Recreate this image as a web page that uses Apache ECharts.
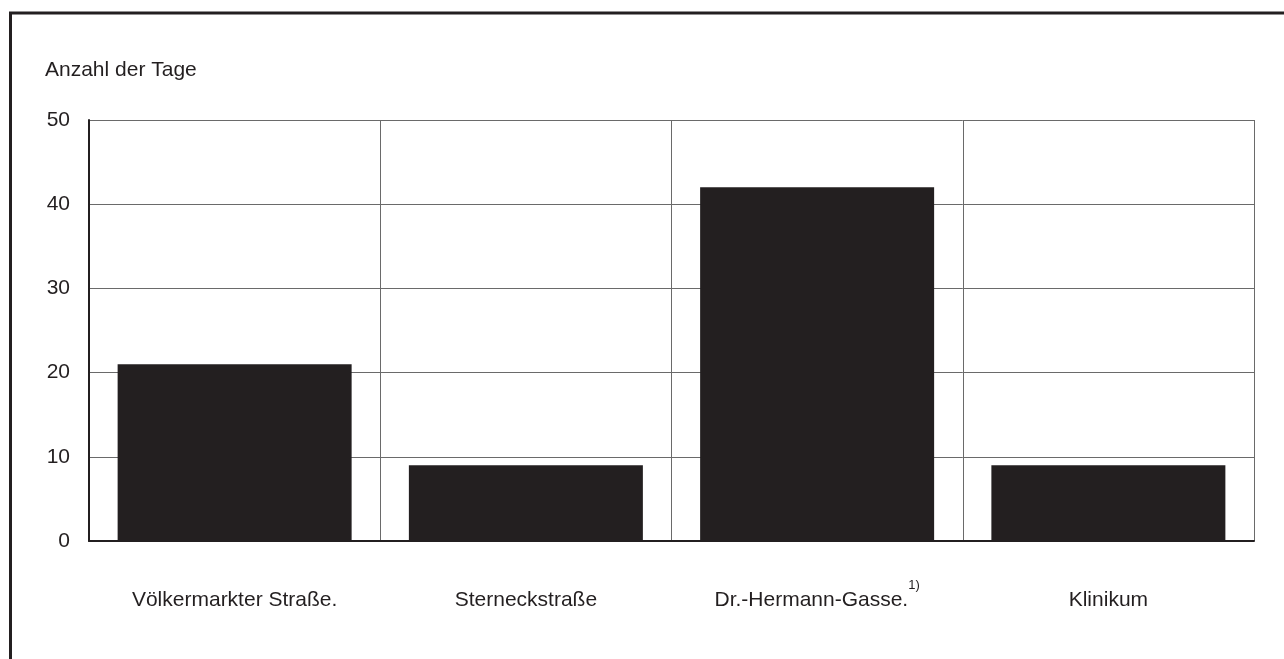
<!DOCTYPE html>
<html>
<head>
<meta charset="utf-8">
<script src="https://cdn.jsdelivr.net/npm/echarts@6/dist/echarts.min.js"></script>
<style>
html,body{margin:0;padding:0;background:#fff;}
#chart{width:1284px;height:659px;}
</style>
</head>
<body>
<div id="chart"></div>
<script>
const categories = ['Völkermarkter Straße.', 'Sterneckstraße', 'Dr.-Hermann-Gasse.', 'Klinikum'];
const footnotes = ['', '', '1)', ''];
const values = [21, 9, 42, 9];
const yTicks = [0, 10, 20, 30, 40, 50];
const yAxisTitle = 'Anzahl der Tage';

const chart = echarts.init(document.getElementById('chart'), null, {renderer: 'canvas'});
const font = 'Liberation Sans, Arial, Helvetica, sans-serif';
chart.setOption({
  animation: false,
  backgroundColor: '#ffffff',
  grid: {left: 89, right: 30, top: 120, bottom: 118, containLabel: false},
  graphic: [
    {type: 'rect', shape: {x: 10.5, y: 13, width: 1400, height: 800},
     style: {fill: 'none', stroke: '#231f20', lineWidth: 3}, silent: true, z: 0},
    {type: 'text', left: 45, top: 60,
     style: {text: yAxisTitle, font: '21px ' + font, fill: '#231f20'}}
  ],
  xAxis: {
    type: 'category',
    data: categories,
    boundaryGap: true,
    axisLine: {show: true, lineStyle: {color: '#231f20', width: 2}},
    axisTick: {show: false},
    splitLine: {show: true, lineStyle: {color: '#6a6a6a', width: 1}},
    axisLabel: {
      margin: 42,
      interval: 0,
      formatter: function (v) {
        const f = footnotes[categories.indexOf(v)];
        return f ? '{a|' + v + '}{s|' + f + '}' : '{a|' + v + '}';
      },
      rich: {
        a: {fontSize: 21, fontFamily: font, color: '#231f20', lineHeight: 24, padding: [10, 0, 0, 0]},
        s: {fontSize: 13, fontFamily: font, color: '#231f20', lineHeight: 14, padding: [0, 0, 20, 0]}
      }
    }
  },
  yAxis: {
    type: 'value',
    min: yTicks[0],
    max: yTicks[yTicks.length - 1],
    interval: 10,
    axisLine: {show: true, lineStyle: {color: '#231f20', width: 2}},
    axisTick: {show: false},
    splitLine: {show: true, lineStyle: {color: '#6a6a6a', width: 1}},
    axisLabel: {margin: 19, fontSize: 21, fontFamily: font, color: '#231f20'}
  },
  series: [{
    type: 'bar',
    data: values,
    barWidth: 234,
    itemStyle: {color: '#231f20'},
    z: 3
  }]
});
</script>
</body>
</html>
